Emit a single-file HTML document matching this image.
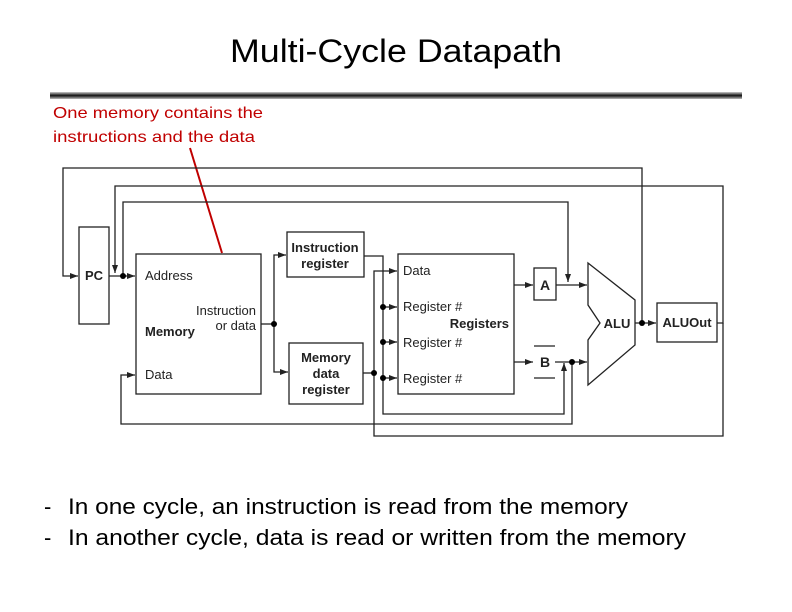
<!DOCTYPE html>
<html><head><style>body{margin:0;background:#fff}svg{display:block}</style></head><body>
<svg width="792" height="612" viewBox="0 0 792 612" xmlns="http://www.w3.org/2000/svg" font-family="Liberation Sans, sans-serif">
<defs>
<linearGradient id="bar" x1="0" y1="0" x2="0" y2="1">
<stop offset="0" stop-color="#ccc"/><stop offset="0.5" stop-color="#111"/><stop offset="1" stop-color="#bbb"/>
</linearGradient>
<marker id="ar" markerWidth="8" markerHeight="6" refX="8" refY="3" orient="auto" markerUnits="userSpaceOnUse"><path d="M0,0L8,3L0,6z" fill="#222"/></marker>
</defs>
<text x="396" y="62" font-size="32" text-anchor="middle" textLength="332" lengthAdjust="spacingAndGlyphs">Multi-Cycle Datapath</text>
<rect x="50" y="92" width="692" height="7" fill="url(#bar)"/>
<text x="53" y="118" font-size="16" fill="#c00000" textLength="210" lengthAdjust="spacingAndGlyphs">One memory contains the</text>
<text x="53" y="142" font-size="16" fill="#c00000" textLength="202" lengthAdjust="spacingAndGlyphs">instructions and the data</text>
<line x1="190" y1="148" x2="222" y2="253" stroke="#c00000" stroke-width="2"/>

<g fill="none" stroke="#222" stroke-width="1.3">
<rect x="79" y="227" width="30" height="97"/>
<rect x="136" y="254" width="125" height="140"/>
<rect x="287" y="232" width="77" height="45"/>
<rect x="289" y="343" width="74" height="61"/>
<rect x="398" y="254" width="116" height="140"/>
<rect x="534" y="268" width="22" height="32"/>
<line x1="534" y1="346" x2="555" y2="346"/><line x1="534" y1="378" x2="555" y2="378"/>
<polygon points="588,263 635,300 635,345 588,385 588,340 600,323 588,305"/>
<rect x="657" y="303" width="60" height="39"/>
<polyline points="642,323 642,168 63,168 63,276 78,276" marker-end="url(#ar)"/>
<polyline points="109,276 135,276" marker-end="url(#ar)"/>
<polyline points="717,323 723,323 723,186 115,186 115,273" marker-end="url(#ar)"/>
<polyline points="723,323 723,436 374,436 374,271 397,271" marker-end="url(#ar)"/>
<polyline points="123,276 123,202 568,202 568,282" marker-end="url(#ar)"/>
<polyline points="261,324 274,324"/>
<polyline points="274,324 274,255 286,255" marker-end="url(#ar)"/>
<polyline points="274,324 274,372 288,372" marker-end="url(#ar)"/>
<polyline points="364,256 383,256 383,414 564,414 564,363" marker-end="url(#ar)"/>
<polyline points="383,307 397,307" marker-end="url(#ar)"/>
<polyline points="383,342 397,342" marker-end="url(#ar)"/>
<polyline points="383,378 397,378" marker-end="url(#ar)"/>
<polyline points="363,373 374,373"/>
<polyline points="572,362 572,424 121,424 121,375 135,375" marker-end="url(#ar)"/>
<polyline points="514,285 533,285" marker-end="url(#ar)"/>
<polyline points="556,285 587,285" marker-end="url(#ar)"/>
<polyline points="514,362 533,362" marker-end="url(#ar)"/>
<polyline points="555,362 587,362" marker-end="url(#ar)"/>
<polyline points="635,323 656,323" marker-end="url(#ar)"/>
</g>
<g fill="#000">
<circle cx="123" cy="276" r="3"/><circle cx="274" cy="324" r="3"/>
<circle cx="383" cy="307" r="3"/><circle cx="383" cy="342" r="3"/><circle cx="383" cy="378" r="3"/>
<circle cx="374" cy="373" r="3"/><circle cx="572" cy="362" r="3"/><circle cx="642" cy="323" r="3"/>
</g>
<g font-size="13" fill="#222">
<text x="94" y="280" font-weight="bold" text-anchor="middle" font-size="13">PC</text>
<text x="145" y="280">Address</text>
<text x="256" y="315" text-anchor="end">Instruction</text>
<text x="256" y="330" text-anchor="end">or data</text>
<text x="145" y="336" font-weight="bold">Memory</text>
<text x="145" y="379">Data</text>
<text x="325" y="252" text-anchor="middle" font-weight="bold">Instruction</text>
<text x="325" y="268" text-anchor="middle" font-weight="bold">register</text>
<text x="326" y="362" text-anchor="middle" font-weight="bold">Memory</text>
<text x="326" y="378" text-anchor="middle" font-weight="bold">data</text>
<text x="326" y="394" text-anchor="middle" font-weight="bold">register</text>
<text x="403" y="275">Data</text>
<text x="403" y="311">Register #</text>
<text x="509" y="328" text-anchor="end" font-weight="bold">Registers</text>
<text x="403" y="347">Register #</text>
<text x="403" y="383">Register #</text>
<text x="545" y="290" text-anchor="middle" font-weight="bold" font-size="14">A</text>
<text x="545" y="367" text-anchor="middle" font-weight="bold" font-size="14">B</text>
<text x="617" y="328" text-anchor="middle" font-weight="bold" font-size="13">ALU</text>
<text x="687" y="327" text-anchor="middle" font-weight="bold" font-size="13">ALUOut</text>
</g>
<g font-size="22" fill="#000">
<text x="44" y="514">-</text>
<text x="68" y="514" textLength="560" lengthAdjust="spacingAndGlyphs">In one cycle, an instruction is read from the memory</text>
<text x="44" y="545">-</text>
<text x="68" y="545" textLength="618" lengthAdjust="spacingAndGlyphs">In another cycle, data is read or written from the memory</text>
</g>
</svg>
</body></html>
